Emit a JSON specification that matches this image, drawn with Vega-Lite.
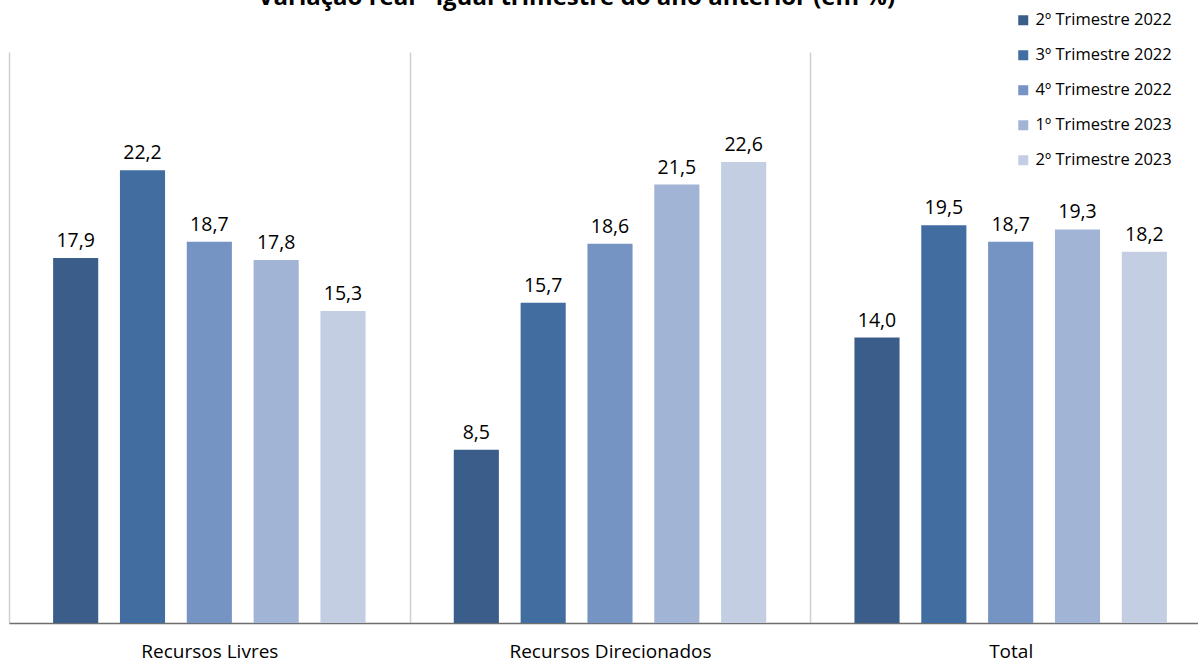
{
  "$schema": "https://vega.github.io/schema/vega-lite/v6.json",
  "autosize": {"type": "none"},
  "width": 1189,
  "height": 571,
  "padding": {"left": 9, "top": 52, "right": 0, "bottom": 39},
  "background": "white",
  "config": {
    "locale": {"number": {"decimal": ",", "thousands": ".", "grouping": [3], "currency": ["R$", ""]}},
    "view": {"stroke": null},
    "font": "Open Sans"
  },
  "title": {
    "text": "Variação real - igual trimestre do ano anterior (em %)",
    "frame": "group",
    "anchor": "middle",
    "baseline": "alphabetic",
    "offset": 0,
    "dy": 17,
    "dx": -27,
    "fontSize": 24,
    "fontWeight": "bold",
    "font": "Open Sans",
    "color": "#000000"
  },
  "data": {
    "values": [
      {"categoria": "Recursos Livres", "periodo": "2º Trimestre 2022", "valor": 17.9},
      {"categoria": "Recursos Livres", "periodo": "3º Trimestre 2022", "valor": 22.2},
      {"categoria": "Recursos Livres", "periodo": "4º Trimestre 2022", "valor": 18.7},
      {"categoria": "Recursos Livres", "periodo": "1º Trimestre 2023", "valor": 17.8},
      {"categoria": "Recursos Livres", "periodo": "2º Trimestre 2023", "valor": 15.3},
      {"categoria": "Recursos Direcionados", "periodo": "2º Trimestre 2022", "valor": 8.5},
      {"categoria": "Recursos Direcionados", "periodo": "3º Trimestre 2022", "valor": 15.7},
      {"categoria": "Recursos Direcionados", "periodo": "4º Trimestre 2022", "valor": 18.6},
      {"categoria": "Recursos Direcionados", "periodo": "1º Trimestre 2023", "valor": 21.5},
      {"categoria": "Recursos Direcionados", "periodo": "2º Trimestre 2023", "valor": 22.6},
      {"categoria": "Total", "periodo": "2º Trimestre 2022", "valor": 14.0},
      {"categoria": "Total", "periodo": "3º Trimestre 2022", "valor": 19.5},
      {"categoria": "Total", "periodo": "4º Trimestre 2022", "valor": 18.7},
      {"categoria": "Total", "periodo": "1º Trimestre 2023", "valor": 19.3},
      {"categoria": "Total", "periodo": "2º Trimestre 2023", "valor": 18.2}
    ]
  },
  "encoding": {
    "x": {
      "field": "categoria",
      "type": "nominal",
      "sort": ["Recursos Livres", "Recursos Direcionados", "Total"],
      "scale": {"paddingInner": 0, "paddingOuter": 0, "range": [0, 1202]},
      "axis": {
        "title": null,
        "labelAngle": 0,
        "labelFontSize": 19,
        "labelColor": "#000000",
        "labelPadding": 19,
        "labelLimit": 0,
        "labelFont": "Open Sans",
        "ticks": false,
        "domainColor": "#6e6e6e",
        "domainWidth": 1.5,
        "grid": true,
        "gridColor": "#d0d0d0",
        "gridWidth": 1.5,
        "tickBand": "extent"
      }
    },
    "xOffset": {
      "field": "periodo",
      "type": "nominal",
      "sort": ["2º Trimestre 2022", "3º Trimestre 2022", "4º Trimestre 2022", "1º Trimestre 2023", "2º Trimestre 2023"],
      "scale": {"paddingInner": 0.325, "paddingOuter": 0.66}
    },
    "y": {
      "field": "valor",
      "type": "quantitative",
      "scale": {"domain": [0, 28]},
      "axis": null
    }
  },
  "layer": [
    {
      "mark": {"type": "bar"},
      "encoding": {
        "color": {
          "field": "periodo",
          "type": "nominal",
          "sort": ["2º Trimestre 2022", "3º Trimestre 2022", "4º Trimestre 2022", "1º Trimestre 2023", "2º Trimestre 2023"],
          "scale": {
            "domain": ["2º Trimestre 2022", "3º Trimestre 2022", "4º Trimestre 2022", "1º Trimestre 2023", "2º Trimestre 2023"],
            "range": ["#3a5d89", "#426da1", "#7594c4", "#a2b4d5", "#c3cee3"]
          },
          "legend": {
            "title": null,
            "orient": "none",
            "legendX": 1006,
            "legendY": -40,
            "symbolType": "square",
            "symbolSize": 100,
            "symbolStrokeWidth": 0,
            "labelFontSize": 16.5,
            "labelFont": "Open Sans",
            "labelColor": "#000000",
            "rowPadding": 18,
            "labelOffset": 4
          }
        }
      }
    },
    {
      "mark": {"type": "text", "baseline": "alphabetic", "dy": -11, "fontSize": 19.5, "font": "Open Sans", "color": "#000000"},
      "encoding": {
        "text": {"field": "valor", "type": "quantitative", "format": ".1f"}
      }
    }
  ]
}
